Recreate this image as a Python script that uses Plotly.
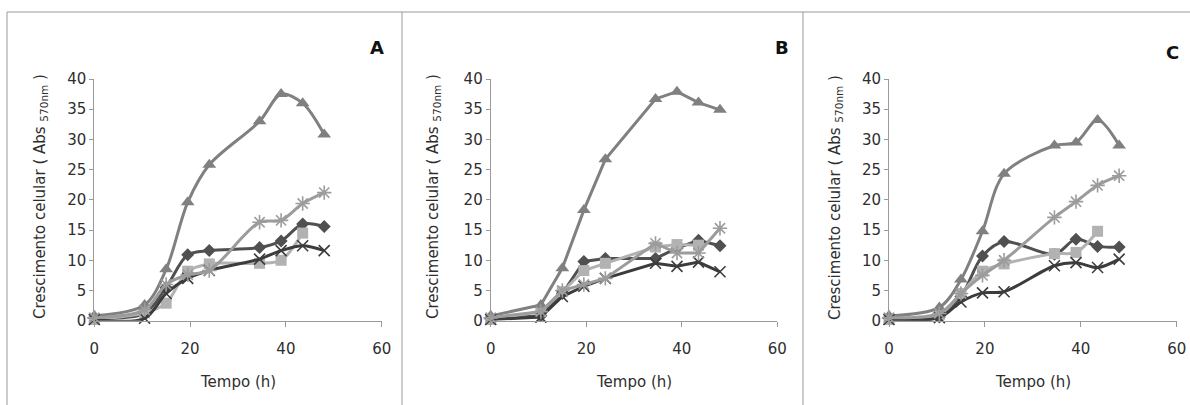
import plotly.graph_objects as go

# ---------------- data ----------------
tempo = [0, 10.5, 15, 19.5, 24, 34.5, 39, 43.5, 48]

diamond_A = [0.5, 1.2, 5.5, 10.9, 11.6, 12.1, 13.2, 16.0, 15.6]
square_A = [0.2, 1.3, 2.9, 8.2, 9.4, 9.5, 10.0, 14.5, None]
triangle_A = [0.8, 2.6, 8.5, 19.6, 25.8, 33.0, 37.5, 36.0, 30.8]
x_A = [0.2, 0.4, 4.5, 7.0, 8.3, 10.2, 11.6, 12.4, 11.6]
star_A = [0.5, 1.8, 6.0, 7.6, 8.3, 16.3, 16.6, 19.4, 21.2]

diamond_B = [0.3, 0.8, 4.5, 9.8, 10.3, 10.3, 12.0, 13.3, 12.4]
square_B = [0.2, 1.5, 4.8, 8.3, 9.5, 12.2, 12.6, 12.5, None]
triangle_B = [0.8, 2.6, 8.7, 18.3, 26.7, 36.7, 37.9, 36.1, 34.9]
x_B = [0.2, 0.6, 4.0, 5.7, 7.0, 9.5, 9.0, 9.7, 8.1]
star_B = [0.5, 1.5, 5.0, 6.0, 7.0, 12.8, 11.2, 11.2, 15.3]

diamond_C = [0.4, 0.6, 4.0, 10.7, 13.1, 11.0, 13.5, 12.3, 12.2]
square_C = [0.2, 1.0, 4.5, 8.2, 9.4, 11.1, 11.3, 14.8, None]
triangle_C = [0.8, 2.2, 6.8, 14.8, 24.3, 29.0, 29.5, 33.2, 29.0]
x_C = [0.2, 0.5, 3.1, 4.6, 4.8, 9.1, 9.6, 8.8, 10.2]
star_C = [0.5, 1.2, 4.5, 7.5, 10.0, 17.1, 19.7, 22.4, 24.0]

panel_letters = ["A", "B", "C"]
x_ticks = [0, 20, 40, 60]
x_title = "Tempo (h)"
y_title = "Crescimento celular ( Abs <sub>570nm</sub> )"

panels = [
    (diamond_A, square_A, triangle_A, x_A, star_A),
    (diamond_B, square_B, triangle_B, x_B, star_B),
    (diamond_C, square_C, triangle_C, x_C, star_C),
]

# ---------------- styling ----------------
W, H = 1190, 405
FONT = "DejaVu Sans, sans-serif"
TXT = "#2e2e2e"
AX = "#9a9a9a"

series_style = [
    dict(symbol="diamond", size=10, color="#505050", lw=3),
    dict(symbol="square", size=11, color="#b2b2b2", lw=3),
    dict(symbol="triangle-up", size=12, color="#808080", lw=3),
    dict(symbol="x-thin-open", size=11, color="#3c3c3c", lw=3),
    dict(symbol="asterisk-open", size=12, color="#9c9c9c", lw=3),
]

# plot-area pixel positions (x=0 and x=60)
x_px = [(94.3, 381.7), (490.7, 777.3), (889.0, 1176.7)]
y_dom = [1 - 320.7 / H, 1 - 79.0 / H]
ytitle_x = [40, 433, 835]
letter_pos = [(377, 48), (782, 48), (1172, 52)]

fig = go.Figure()
layout = dict(
    template="none",
    width=W, height=H,
    margin=dict(l=0, r=0, t=0, b=0, pad=0, autoexpand=False),
    paper_bgcolor="white", plot_bgcolor="white",
    showlegend=False,
    font=dict(family=FONT, color=TXT, size=15),
)

annotations = []
shapes = []

for i, data in enumerate(panels):
    sfx = "" if i == 0 else str(i + 1)
    smooth = "linear" if i == 1 else "spline"
    for s, vals in zip(series_style, data):
        open_sym = s["symbol"].endswith("open")
        fig.add_trace(go.Scatter(
            x=tempo, y=vals, mode="lines+markers",
            xaxis="x" + sfx, yaxis="y" + sfx,
            line=dict(color=s["color"], width=s["lw"], shape=smooth,
                      smoothing=0.9),
            marker=dict(symbol=s["symbol"], size=s["size"], color=s["color"],
                        line=dict(color=s["color"], width=1.6 if open_sym else 0)),
            cliponaxis=False, connectgaps=False,
        ))
    x0p, x1p = x_px[i]
    layout["xaxis" + sfx] = dict(
        domain=[x0p / W, x1p / W], range=[0, 60], anchor="y" + sfx,
        tickvals=x_ticks, showgrid=False, zeroline=False, automargin=False,
        showline=True, linecolor=AX, linewidth=1,
        ticks="outside", ticklen=5, tickcolor=AX,
        ticklabelstandoff=9,
        tickfont=dict(family=FONT, size=15, color=TXT),
    )
    layout["yaxis" + sfx] = dict(
        domain=y_dom, range=[0, 40], anchor="x" + sfx,
        dtick=5, showgrid=False, zeroline=False, automargin=False,
        showline=True, linecolor=AX, linewidth=1,
        ticks="outside", ticklen=4, tickcolor=AX,
        tickfont=dict(family=FONT, size=15, color=TXT),
    )
    # x title
    annotations.append(dict(
        text=x_title, x=(x0p + (x1p - x0p) * 0.5) / W, y=1 - 382 / H,
        xref="paper", yref="paper", showarrow=False,
        xanchor="center", yanchor="middle",
        font=dict(family=FONT, size=15, color=TXT)))
    # y title
    annotations.append(dict(
        text=y_title, x=ytitle_x[i] / W, y=1 - 197 / H,
        xref="paper", yref="paper", showarrow=False, textangle=-90,
        xanchor="center", yanchor="middle",
        font=dict(family=FONT, size=15, color=TXT)))
    # panel letter
    lx, ly = letter_pos[i]
    annotations.append(dict(
        text="<b>%s</b>" % panel_letters[i], x=lx / W, y=1 - ly / H,
        xref="paper", yref="paper", showarrow=False,
        xanchor="center", yanchor="middle",
        font=dict(family=FONT, size=18, color="#111111")))

# panel frames
frame = "#9a9a9a"
shapes.append(dict(type="line", xref="paper", yref="paper",
                   x0=7 / W, x1=1, y0=1 - 12 / H, y1=1 - 12 / H,
                   line=dict(color=frame, width=1)))
for xv in [7, 402, 803]:
    shapes.append(dict(type="line", xref="paper", yref="paper",
                       x0=xv / W, x1=xv / W, y0=0, y1=1 - 12 / H,
                       line=dict(color=frame, width=1)))

layout["annotations"] = annotations
layout["shapes"] = shapes
fig.update_layout(**layout)
fig.write_html("out.html",
               config={"displayModeBar": False},
               post_script="document.body.style.margin='0';"
                           "document.body.style.overflow='hidden';")
